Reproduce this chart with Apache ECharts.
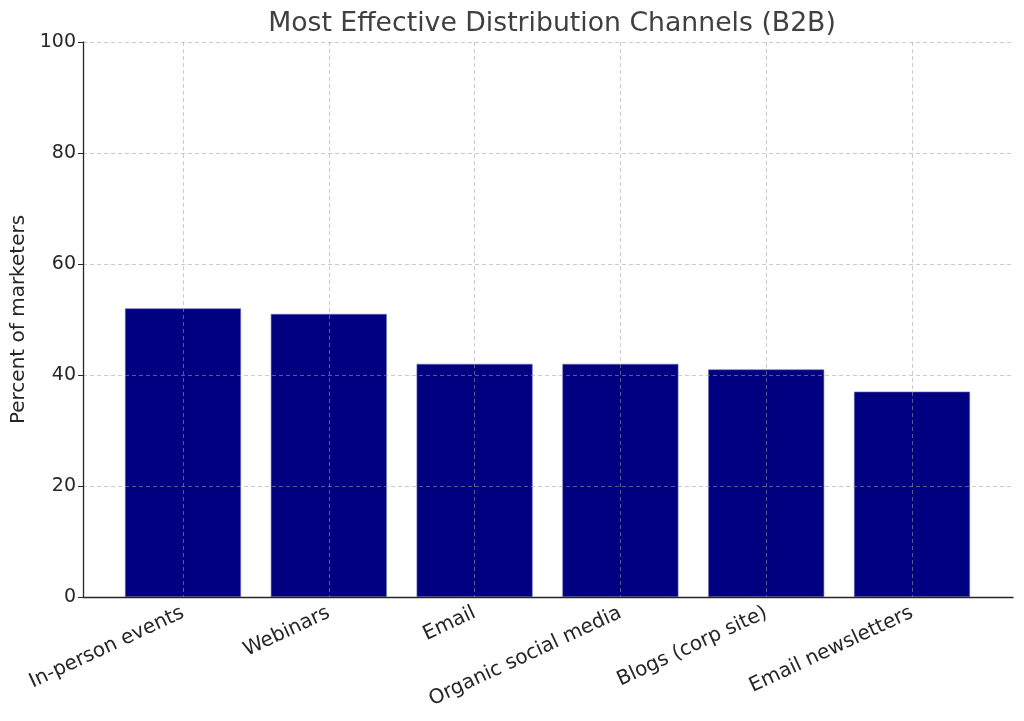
<!DOCTYPE html>
<html><head><meta charset="utf-8">
<script src="https://cdn.jsdelivr.net/npm/echarts@6/dist/echarts.min.js"></script>
<style>html,body{margin:0;padding:0;background:#fff}#c{width:1024px;height:721px}</style>
</head><body><div id="c"></div>
<script>
const categories = ["In-person events", "Webinars", "Email", "Organic social media", "Blogs (corp site)", "Email newsletters"];
const values = [52, 51, 42, 42, 41, 37];
const yTicks = [0, 20, 40, 60, 80, 100];

const chart = echarts.init(document.getElementById('c'));
const font = 'DejaVu Sans';
chart.setOption({
  animation: false,
  title: { text: 'Most Effective Distribution Channels (B2B)', left: 547, top: 6, textAlign: 'center',
    textStyle: { fontFamily: font, fontSize: 26.7, fontWeight: 'normal', color: '#404040' } },
  grid: [
    { left: 83, right: 11, top: 42, bottom: 124 },
    { left: 183, right: 112, top: 42, bottom: 124 }
  ],
  xAxis: [
    { gridIndex: 0, type: 'value', min: 0, max: 1, z: 5,
      axisLine: { show: true, lineStyle: { color: '#262626', width: 1.3 } },
      axisTick: { show: false }, axisLabel: { show: false }, splitLine: { show: false } },
    { gridIndex: 1, type: 'category', data: categories, boundaryGap: false, z: 5,
      axisLine: { show: false },
      axisTick: { show: false },
      axisLabel: { rotate: 25, margin: 15, interval: 0, fontFamily: font, fontSize: 20, color: '#262626' },
      splitLine: { show: true, lineStyle: { color: 'rgba(160,160,160,0.55)', type: [4, 3], width: 1 } } }
  ],
  yAxis: [
    { gridIndex: 0, type: 'value', min: 0, max: 100, interval: 20, z: 5,
      name: 'Percent of marketers', nameLocation: 'middle', nameGap: 53,
      nameTextStyle: { fontFamily: font, fontSize: 20, color: '#262626' },
      axisLine: { show: true, lineStyle: { color: '#262626', width: 1.3 } },
      axisTick: { show: true, length: 5, lineStyle: { color: '#262626' } },
      axisLabel: { fontFamily: font, fontSize: 19, color: '#262626', margin: 7,
        formatter: v => yTicks.includes(v) ? String(v) : '' },
      splitLine: { show: true, lineStyle: { color: 'rgba(160,160,160,0.55)', type: [4, 3], width: 1 } } },
    { gridIndex: 1, type: 'value', min: 0, max: 100, show: false, splitLine: { show: false } }
  ],
  series: [{
    type: 'bar', xAxisIndex: 1, yAxisIndex: 1, data: values, barWidth: 116, clip: false, z: 2,
    itemStyle: { color: '#000080', borderColor: '#6f6fb5', borderWidth: 0.6 }
  }]
});
</script></body></html>
